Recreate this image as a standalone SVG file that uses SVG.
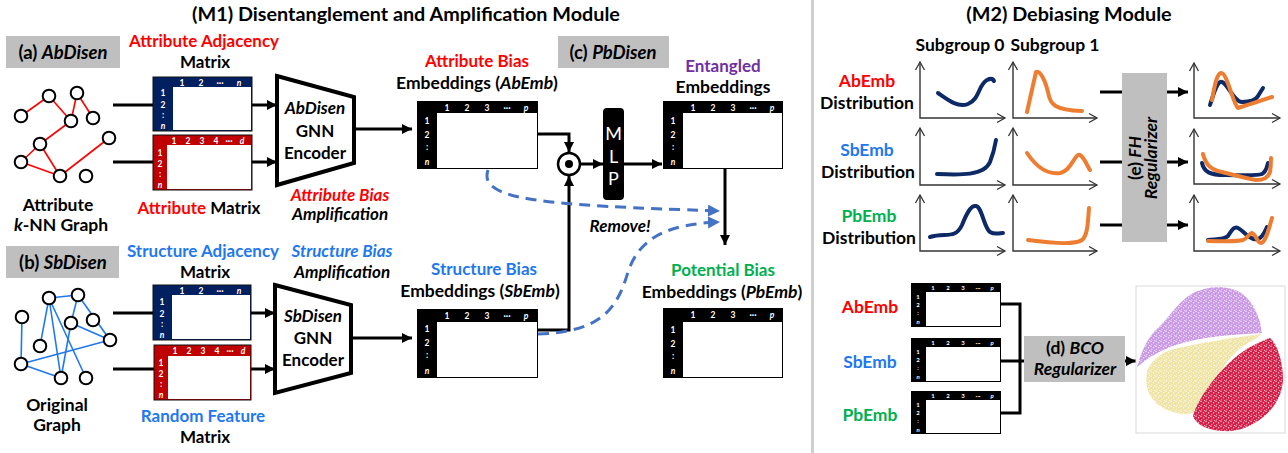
<svg xmlns="http://www.w3.org/2000/svg" width="1288" height="453" viewBox="0 0 1288 453">
<style>
text{font-family:Lato,"Open Sans","Liberation Sans",sans-serif;font-weight:bold;fill:#000}
.c{text-anchor:middle}
.it{font-style:italic}
.red{fill:#ff0000}
.blue{fill:#1f78f0}
.green{fill:#00b050}
.purple{fill:#7030a0}
.hl{font-size:8.5px;fill:#fff;text-anchor:middle}
.sl{font-size:6px;fill:#fff;text-anchor:middle}
.ln{stroke:#000;stroke-width:3;fill:none}
.ar{stroke:#000;stroke-width:3;fill:none;marker-end:url(#ah)}
.dash{stroke:#4472c4;stroke-width:3;fill:none;stroke-dasharray:11 7;marker-end:url(#ahb)}
.ax{stroke:#333;stroke-width:1.4;fill:none;marker-start:url(#ch);marker-end:url(#ch)}
.nv{stroke:#0d2a66;stroke-width:4;fill:none;stroke-linecap:round;stroke-linejoin:round}
.or{stroke:#ed7d31;stroke-width:4;fill:none;stroke-linecap:round;stroke-linejoin:round}
.gb{fill:#bfbfbf}
.nd{fill:#fff;stroke:#000;stroke-width:2}
.er{stroke:#ff0000;stroke-width:1.6}
.eb{stroke:#1f78f0;stroke-width:1.6}
.body{fill:#fff}
.f1{font-size:17px}
.f2{font-size:17.5px}
</style>
<defs>
<marker id="ah" markerUnits="userSpaceOnUse" markerWidth="11" markerHeight="11" refX="10" refY="5" orient="auto"><path d="M0,0 L10,5 L0,10 z" fill="#000"/></marker>
<marker id="ahb" markerUnits="userSpaceOnUse" markerWidth="13" markerHeight="13" refX="12" refY="6" orient="auto"><path d="M0,0 L12,6 L0,12 z" fill="#4472c4"/></marker>
<marker id="ch" markerUnits="userSpaceOnUse" markerWidth="10" markerHeight="10" refX="8" refY="4.5" orient="auto-start-reverse" overflow="visible"><path d="M0,0 L8,4.5 L0,9" fill="none" stroke="#333" stroke-width="1.3"/></marker>
<pattern id="speck" width="5" height="5" patternUnits="userSpaceOnUse"><circle cx="1" cy="1.2" r="0.75" fill="#fff"/><circle cx="3.6" cy="2.8" r="0.7" fill="#fff"/><circle cx="1.8" cy="4.2" r="0.55" fill="#fff"/><circle cx="4.4" cy="0.4" r="0.5" fill="#fff"/></pattern>
</defs>

<g id="titles">
<text x="406" y="21" class="c" font-size="19.8">(M1) Disentanglement and Amplification Module</text>
<text x="1069" y="21" class="c" font-size="19.8">(M2) Debiasing Module</text>
<rect x="811" y="0" width="3" height="453" fill="#cfcfcf"/>
</g>

<g id="label-a"><rect x="6" y="36" width="114" height="32" class="gb"/><text x="63" y="58.5" class="c" font-size="18.5">(a) <tspan class="it">AbDisen</tspan></text></g>
<g id="label-b"><rect x="6" y="246" width="113" height="32" class="gb"/><text x="63" y="268.5" class="c" font-size="18.5">(b) <tspan class="it">SbDisen</tspan></text></g>
<g id="label-c"><rect x="558" y="36" width="111" height="32" class="gb"/><text x="613" y="58.5" class="c" font-size="18.5">(c) <tspan class="it">PbDisen</tspan></text></g>

<g id="graph-a">
<g class="er">
<line x1="21" y1="116" x2="49" y2="96"/><line x1="49" y1="96" x2="71" y2="121"/><line x1="71" y1="121" x2="77" y2="93"/><line x1="77" y1="93" x2="93" y2="118"/><line x1="71" y1="121" x2="40" y2="144"/><line x1="40" y1="144" x2="21" y2="162"/><line x1="40" y1="144" x2="60" y2="176"/><line x1="21" y1="162" x2="60" y2="176"/><line x1="60" y1="176" x2="109" y2="138"/>
</g>
<circle cx="21" cy="116" r="6.3" class="nd"/><circle cx="49" cy="96" r="6.3" class="nd"/><circle cx="77" cy="93" r="6.3" class="nd"/><circle cx="71" cy="121" r="6.3" class="nd"/><circle cx="93" cy="118" r="6.3" class="nd"/><circle cx="40" cy="144" r="6.3" class="nd"/><circle cx="109" cy="138" r="6.3" class="nd"/><circle cx="21" cy="162" r="6.3" class="nd"/><circle cx="60" cy="176" r="6.3" class="nd"/><circle cx="86" cy="176" r="6.3" class="nd"/>
<text x="58" y="211" class="c f2">Attribute</text>
<text x="61" y="231" class="c f2"><tspan class="it">k</tspan>-NN Graph</text>
</g>

<g id="graph-b">
<g class="eb">
<line x1="22" y1="317" x2="21" y2="364"/><line x1="49" y1="298" x2="78" y2="295"/><line x1="49" y1="298" x2="40" y2="346"/><line x1="49" y1="298" x2="61" y2="378"/><line x1="49" y1="298" x2="86" y2="378"/><line x1="78" y1="295" x2="71" y2="323"/><line x1="78" y1="295" x2="110" y2="340"/><line x1="71" y1="323" x2="61" y2="378"/><line x1="71" y1="323" x2="110" y2="340"/><line x1="21" y1="364" x2="110" y2="340"/><line x1="21" y1="364" x2="61" y2="378"/>
</g>
<circle cx="22" cy="317" r="6.3" class="nd"/><circle cx="49" cy="298" r="6.3" class="nd"/><circle cx="78" cy="295" r="6.3" class="nd"/><circle cx="71" cy="323" r="6.3" class="nd"/><circle cx="93" cy="320" r="6.3" class="nd"/><circle cx="40" cy="346" r="6.3" class="nd"/><circle cx="110" cy="340" r="6.3" class="nd"/><circle cx="21" cy="364" r="6.3" class="nd"/><circle cx="61" cy="378" r="6.3" class="nd"/><circle cx="86" cy="378" r="6.3" class="nd"/>
<text x="57" y="411" class="c f2">Original</text>
<text x="57" y="431" class="c f2">Graph</text>
</g>

<g id="mat-attr-adj">
<text x="204" y="47" class="c red f1">Attribute Adjacency</text>
<text x="205" y="68" class="c f1">Matrix</text>
<rect x="153" y="77" width="99" height="54" fill="#002060" stroke="#111" stroke-width="1"/>
<rect x="173" y="87" width="78" height="43" class="body"/>
<text class="hl" y="85.5"><tspan x="182">1</tspan><tspan x="201">2</tspan><tspan x="220">···</tspan><tspan x="239" class="it">n</tspan></text>
<text class="hl"><tspan x="163" y="96">1</tspan><tspan x="163" y="108">2</tspan><tspan x="163" y="118">:</tspan><tspan x="163" y="129" class="it">n</tspan></text>
</g>
<g id="mat-attr">
<rect x="153" y="135" width="99" height="55" fill="#c00000" stroke="#111" stroke-width="1"/>
<rect x="167" y="145" width="84" height="44" class="body"/>
<text class="hl" y="143.5"><tspan x="174">1</tspan><tspan x="188">2</tspan><tspan x="202">3</tspan><tspan x="216">4</tspan><tspan x="229">···</tspan><tspan x="242" class="it">d</tspan></text>
<text class="hl"><tspan x="160" y="156">1</tspan><tspan x="160" y="167">2</tspan><tspan x="160" y="177">:</tspan><tspan x="160" y="188" class="it">n</tspan></text>
<text x="199" y="214" class="c f1"><tspan class="red">Attribute</tspan> Matrix</text>
</g>

<g id="mat-struct-adj">
<text x="203" y="257" class="c blue f1">Structure Adjacency</text>
<text x="205" y="278" class="c f1">Matrix</text>
<rect x="153" y="285" width="98" height="55" fill="#002060" stroke="#111" stroke-width="1"/>
<rect x="172" y="295" width="78" height="44" class="body"/>
<text class="hl" y="293.5"><tspan x="182">1</tspan><tspan x="201">2</tspan><tspan x="220">···</tspan><tspan x="239" class="it">n</tspan></text>
<text class="hl"><tspan x="162" y="305">1</tspan><tspan x="162" y="317">2</tspan><tspan x="162" y="327">:</tspan><tspan x="162" y="338" class="it">n</tspan></text>
</g>
<g id="mat-random">
<rect x="154" y="345" width="97" height="55" fill="#c00000" stroke="#111" stroke-width="1"/>
<rect x="168" y="356" width="82" height="43" class="body"/>
<text class="hl" y="354"><tspan x="175">1</tspan><tspan x="189">2</tspan><tspan x="203">3</tspan><tspan x="217">4</tspan><tspan x="230">···</tspan><tspan x="243" class="it">d</tspan></text>
<text class="hl"><tspan x="161" y="366">1</tspan><tspan x="161" y="377">2</tspan><tspan x="161" y="387">:</tspan><tspan x="161" y="398" class="it">n</tspan></text>
<text x="203" y="422" class="c blue f1">Random Feature</text>
<text x="205" y="443" class="c f1">Matrix</text>
</g>

<g id="enc-a">
<polygon points="277,76 354,97 354,163 277,185" fill="#fff" stroke="#000" stroke-width="4"/>
<text x="315" y="114" class="c it f1">AbDisen</text>
<text x="315" y="137" class="c f1">GNN</text>
<text x="315" y="159" class="c f1">Encoder</text>
<text x="340" y="201" class="c it red f1">Attribute Bias</text>
<text x="340" y="220" class="c it f1">Amplification</text>
</g>
<g id="enc-b">
<polygon points="275,285 351,305 351,373 275,393" fill="#fff" stroke="#000" stroke-width="4"/>
<text x="313" y="322" class="c it f1">SbDisen</text>
<text x="313" y="344" class="c f1">GNN</text>
<text x="313" y="366" class="c f1">Encoder</text>
<text x="342" y="257" class="c it blue f1">Structure Bias</text>
<text x="342" y="278" class="c it f1">Amplification</text>
</g>

<g id="abemb">
<text x="477" y="67" class="c red f1">Attribute Bias</text>
<text x="477" y="89" class="c f2">Embeddings (<tspan class="it">AbEmb</tspan>)</text>
<rect x="417" y="101" width="121" height="68" fill="#000"/>
<rect x="437" y="113" width="100" height="55" class="body"/>
<text class="hl" y="110.5"><tspan x="447">1</tspan><tspan x="467">2</tspan><tspan x="487">3</tspan><tspan x="507">···</tspan><tspan x="526" class="it">p</tspan></text>
<text class="hl"><tspan x="427" y="124">1</tspan><tspan x="427" y="138">2</tspan><tspan x="427" y="150">:</tspan><tspan x="427" y="165" class="it">n</tspan></text>
</g>
<g id="sbemb">
<text x="484" y="275" class="c blue f1">Structure Bias</text>
<text x="480" y="297" class="c f2">Embeddings (<tspan class="it">SbEmb</tspan>)</text>
<rect x="417" y="309" width="121" height="69" fill="#000"/>
<rect x="437" y="322" width="100" height="55" class="body"/>
<text class="hl" y="318.5"><tspan x="447">1</tspan><tspan x="467">2</tspan><tspan x="487">3</tspan><tspan x="507">···</tspan><tspan x="526" class="it">p</tspan></text>
<text class="hl"><tspan x="427" y="332">1</tspan><tspan x="427" y="346">2</tspan><tspan x="427" y="358">:</tspan><tspan x="427" y="374" class="it">n</tspan></text>
</g>
<g id="entangled">
<text x="723" y="72" class="c purple f1">Entangled</text>
<text x="723" y="93" class="c f2">Embeddings</text>
<rect x="663" y="101" width="120" height="68" fill="#000"/>
<rect x="683" y="113" width="99" height="55" class="body"/>
<text class="hl" y="110.5"><tspan x="693">1</tspan><tspan x="713">2</tspan><tspan x="733">3</tspan><tspan x="753">···</tspan><tspan x="772" class="it">p</tspan></text>
<text class="hl"><tspan x="673" y="124">1</tspan><tspan x="673" y="138">2</tspan><tspan x="673" y="150">:</tspan><tspan x="673" y="165" class="it">n</tspan></text>
</g>
<g id="pbemb">
<text x="723" y="276" class="c green f1">Potential Bias</text>
<text x="722" y="298" class="c f2">Embeddings (<tspan class="it">PbEmb</tspan>)</text>
<rect x="663" y="308" width="120" height="70" fill="#000"/>
<rect x="683" y="322" width="99" height="55" class="body"/>
<text class="hl" y="318"><tspan x="693">1</tspan><tspan x="713">2</tspan><tspan x="733">3</tspan><tspan x="753">···</tspan><tspan x="772" class="it">p</tspan></text>
<text class="hl"><tspan x="673" y="333">1</tspan><tspan x="673" y="347">2</tspan><tspan x="673" y="359">:</tspan><tspan x="673" y="374" class="it">n</tspan></text>
</g>
<g id="odot"><circle cx="569" cy="164" r="11" fill="#fff" stroke="#000" stroke-width="2.5"/><circle cx="569" cy="164" r="4" fill="#000"/></g>
<g id="mlp"><rect x="603" y="108" width="21" height="92" rx="4" fill="#000"/>
<text class="c" font-size="18" style="fill:#fff;font-weight:normal"><tspan x="613.5" y="140">M</tspan><tspan x="613.5" y="163">L</tspan><tspan x="613.5" y="185">P</tspan></text></g>
<text x="620" y="232" class="c it f1">Remove!</text>

<g id="connectors">
<line x1="113" y1="105" x2="153" y2="105" class="ln"/>
<line x1="113" y1="162" x2="153" y2="162" class="ln"/>
<line x1="113" y1="313" x2="153" y2="313" class="ln"/>
<line x1="113" y1="369" x2="154" y2="369" class="ln"/>
<line x1="252" y1="105" x2="277" y2="105" class="ar"/>
<line x1="252" y1="162" x2="277" y2="162" class="ar"/>
<line x1="251" y1="313" x2="275" y2="313" class="ar"/>
<line x1="251" y1="369" x2="275" y2="369" class="ar"/>
<line x1="356" y1="129" x2="412" y2="129" class="ar"/>
<line x1="353" y1="338" x2="412" y2="338" class="ar"/>
<path d="M538,134 H569 V152" class="ar" stroke-width="2.5"/>
<path d="M538,330 H569 V176" class="ar" stroke-width="2.5"/>
<line x1="581" y1="164" x2="603" y2="164" class="ar" stroke-width="2.5"/>
<line x1="624" y1="164" x2="662" y2="164" class="ar" stroke-width="2.5"/>
<line x1="725" y1="169" x2="725" y2="245" class="ar" stroke-width="2"/>
<path d="M488,170 C478,200 540,205 720,211" class="dash"/>
<path d="M538,334 C605,332 618,305 628,272 C640,236 670,224 720,222" class="dash"/>
<line x1="1100" y1="92" x2="1122" y2="92" class="ln"/>
<line x1="1100" y1="162" x2="1122" y2="162" class="ln"/>
<line x1="1100" y1="225" x2="1122" y2="225" class="ln"/>
<line x1="1167" y1="92" x2="1188" y2="92" class="ar"/>
<line x1="1167" y1="162" x2="1188" y2="162" class="ar"/>
<line x1="1167" y1="225" x2="1188" y2="225" class="ar"/>
<path d="M1001,304 H1020 V413 H1001" class="ln"/>
<line x1="1001" y1="361" x2="1024" y2="361" class="ln"/>
<line x1="1125" y1="361" x2="1136" y2="361" class="ar" stroke-width="2"/>
</g>

<g id="dist-labels">
<text x="960" y="51" class="c f2">Subgroup 0</text>
<text x="1055" y="51" class="c f2">Subgroup 1</text>
<text x="867" y="87" class="c red f2">AbEmb</text>
<text x="867" y="109" class="c f2">Distribution</text>
<text x="867" y="156" class="c blue f2">SbEmb</text>
<text x="868" y="178" class="c f2">Distribution</text>
<text x="869" y="222" class="c green f2">PbEmb</text>
<text x="869" y="244" class="c f2">Distribution</text>
</g>

<g id="plots">
<path d="M920,62 V118 H1005" class="ax"/>
<path d="M920,128 V185 H1005" class="ax"/>
<path d="M920,195 V251 H1005" class="ax"/>
<path d="M1013,62 V118 H1097" class="ax"/>
<path d="M1013,128 V185 H1097" class="ax"/>
<path d="M1013,195 V251 H1097" class="ax"/>
<path d="M1194,63 V118 H1280" class="ax"/>
<path d="M1194,129 V184 H1280" class="ax"/>
<path d="M1194,195 V251 H1280" class="ax"/>
<path d="M938,93 C948,100 958,108 968,104 C980,99 978,85 987,80 C991,78 993,79 994,81" class="nv"/>
<path d="M937,174 C960,175 984,176 990,162 C994,152 995,146 996,140" class="nv"/>
<path d="M930,237 C945,232 955,240 962,225 C968,210 972,205 976,206 C982,207 984,228 990,232 C995,235 1000,233 1003,233" class="nv"/>
<path d="M1027,112 L1036,72 C1040,70 1045,80 1048,92 C1050,105 1055,110 1082,111" class="or"/>
<path d="M1027,153 C1035,165 1045,175 1060,173 C1072,171 1075,152 1080,155 C1085,158 1088,168 1090,170" class="or"/>
<path d="M1028,240 C1050,243 1075,245 1082,240 C1088,235 1088,220 1089,208" class="or"/>
<path d="M1210,105 C1214,92 1218,80 1222,82 C1228,84 1234,102 1242,102 C1250,102 1256,100 1258,96 L1263,88" class="nv"/>
<path d="M1212,100 C1214,90 1216,74 1221,73 C1227,72 1233,104 1238,108 C1245,106 1260,101 1272,97" class="or"/>
<path d="M1202,163 C1204,172 1210,175 1225,175 C1240,175 1258,176 1262,174 C1266,172 1267,167 1268,163" class="nv"/>
<path d="M1203,154 C1206,166 1212,170 1222,172 C1235,175 1248,179 1256,180 C1264,180 1268,178 1270,172 C1271,166 1271,162 1271,158" class="or"/>
<path d="M1208,240 C1215,239 1224,240 1228,236 C1232,230 1234,226 1238,228 C1242,230 1244,233 1248,236 C1254,240 1258,241 1262,236 C1265,232 1266,229 1267,227" class="nv"/>
<path d="M1208,241 C1222,241 1236,242 1243,240 C1248,238 1250,232 1252,233 C1256,234 1257,243 1261,243 C1266,242 1269,228 1272,218" class="or"/>
</g>

<g id="fh-reg">
<rect x="1122" y="73" width="45" height="169" class="gb"/>
<text transform="translate(1141,158) rotate(-90)" class="c f2">(e) <tspan class="it">FH</tspan></text>
<text transform="translate(1157,158) rotate(-90)" class="c it f2">Regularizer</text>
</g>

<g id="bco-inputs">
<text x="870" y="313" class="c red f2">AbEmb</text>
<text x="870" y="368" class="c blue f2">SbEmb</text>
<text x="870" y="421" class="c green f2">PbEmb</text>
<rect x="911" y="283" width="90" height="44" fill="#000"/><rect x="926" y="292" width="74" height="34" class="body"/>
<text class="sl" y="290"><tspan x="933">1</tspan><tspan x="948">2</tspan><tspan x="963">3</tspan><tspan x="978">···</tspan><tspan x="992" class="it">p</tspan></text>
<text class="sl"><tspan x="918" y="299">1</tspan><tspan x="918" y="307">2</tspan><tspan x="918" y="315">:</tspan><tspan x="918" y="324" class="it">n</tspan></text>
<rect x="911" y="338" width="90" height="44" fill="#000"/><rect x="926" y="347" width="74" height="34" class="body"/>
<text class="sl" y="345"><tspan x="933">1</tspan><tspan x="948">2</tspan><tspan x="963">3</tspan><tspan x="978">···</tspan><tspan x="992" class="it">p</tspan></text>
<text class="sl"><tspan x="918" y="354">1</tspan><tspan x="918" y="362">2</tspan><tspan x="918" y="370">:</tspan><tspan x="918" y="379" class="it">n</tspan></text>
<rect x="911" y="391" width="90" height="43" fill="#000"/><rect x="926" y="400" width="74" height="33" class="body"/>
<text class="sl" y="398"><tspan x="933">1</tspan><tspan x="948">2</tspan><tspan x="963">3</tspan><tspan x="978">···</tspan><tspan x="992" class="it">p</tspan></text>
<text class="sl"><tspan x="918" y="407">1</tspan><tspan x="918" y="415">2</tspan><tspan x="918" y="423">:</tspan><tspan x="918" y="432" class="it">n</tspan></text>
</g>
<g id="bco-reg">
<rect x="1024" y="336" width="101" height="46" class="gb"/>
<text x="1075" y="354" class="c f2">(d) <tspan class="it">BCO</tspan></text>
<text x="1075" y="375" class="c it f2">Regularizer</text>
</g>
<g id="scatter">
<rect x="1136" y="286" width="149" height="147" fill="#fff" stroke="#d9d9d9" stroke-width="1"/>
<path d="M1137,367 C1142,350 1148,336 1160,326 C1170,316 1178,302 1193,293 C1205,287 1220,286 1232,289 C1245,292 1255,305 1260,322 L1262,333 C1240,334 1212,336 1190,341 C1170,346 1155,352 1137,367 Z" fill="#c998e6"/>
<path d="M1147,371 C1152,360 1160,352 1178,348 C1200,343 1230,338 1262,334 C1255,340 1244,344 1236,352 C1226,362 1215,378 1207,394 C1202,404 1198,410 1192,413 C1185,415 1172,414 1160,406 C1150,399 1144,388 1147,371 Z" fill="#efe4a4"/>
<path d="M1270,338 C1278,345 1283,362 1283,380 C1282,395 1275,408 1262,418 C1250,427 1238,432 1222,431 C1208,430 1196,425 1193,416 C1196,405 1204,392 1212,382 C1224,366 1240,352 1252,346 C1260,342 1266,339 1270,338 Z" fill="#d81b45"/>
<rect x="1137" y="287" width="147" height="145" fill="url(#speck)" opacity="0.85"/>
</g>
</svg>
